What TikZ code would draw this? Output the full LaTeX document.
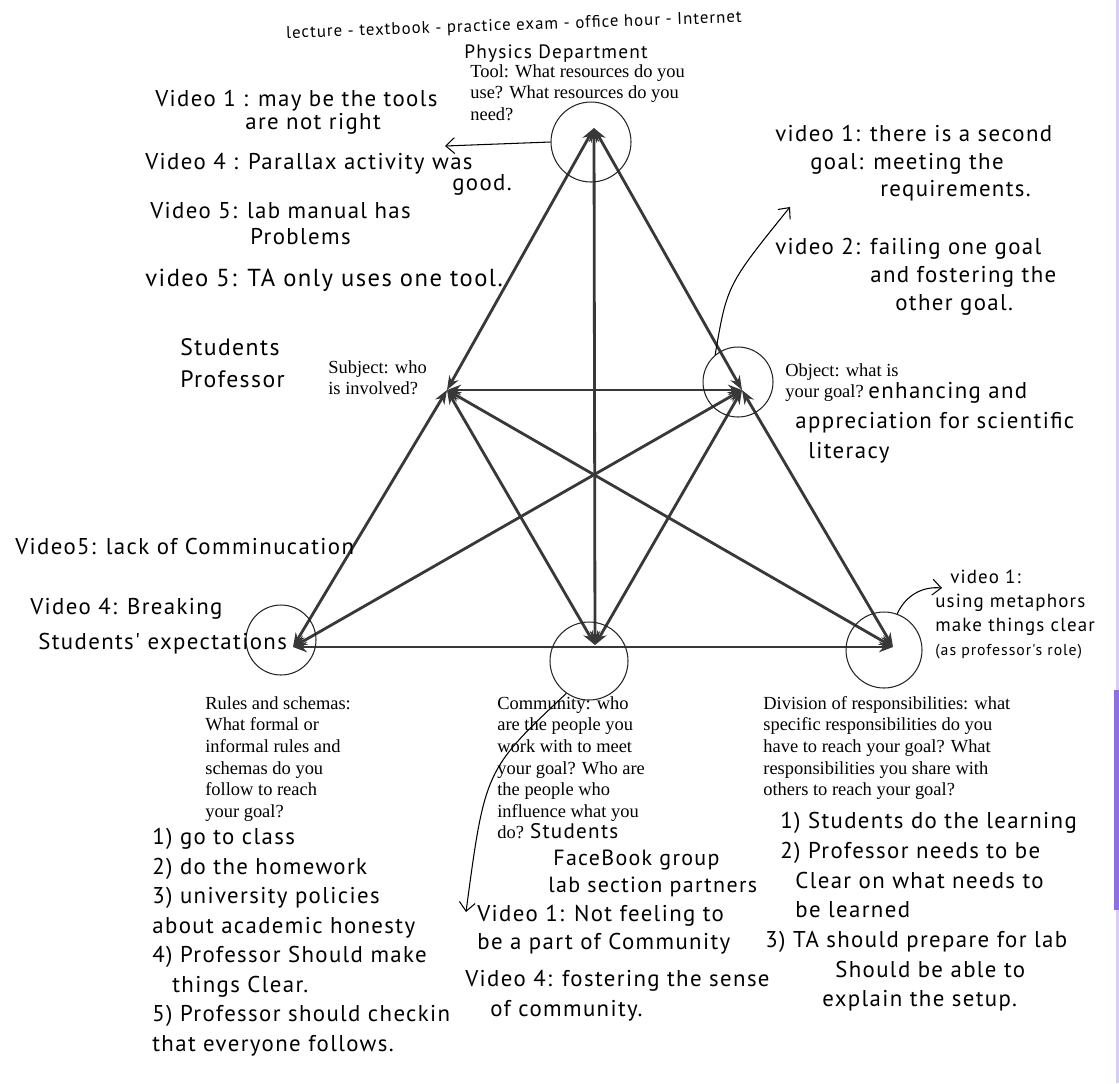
\documentclass[tikz,border=0pt]{standalone}
\usepackage{fontspec}
\setmainfont{Liberation Serif}
\newfontfamily\handfont[LetterSpace=6]{PT Sans}
\usetikzlibrary{arrows.meta}
\definecolor{scanedge}{RGB}{140,110,230}
\begin{document}
\begin{tikzpicture}[x=0.02cm,y=-0.02cm,
    link/.style={{Stealth[length=8pt,width=6pt]}-{Stealth[length=8pt,width=6pt]},line width=1.6pt,draw=black!78},
    ring/.style={draw=black!85,circle,line width=0.6pt,inner sep=0pt},
    pointer/.style={-{Straight Barb[length=5pt,width=9pt]},line width=0.6pt},
    prompt/.style={font=\fontsize{10.5}{12.3}\selectfont,align=left,anchor=north west,inner sep=0pt},
    hand/.style={font=\handfont\fontsize{13}{#1}\selectfont,align=left,anchor=north west,inner sep=0pt},
    hand/.default=16]
  \useasboundingbox[fill=white] (0,0) rectangle (1119,1083);
  % scanner edge on the right
  \fill[scanedge!35] (1116,0) rectangle (1119,1083);
  \fill[scanedge] (1114,690) rectangle (1119,910);

  % corners of the two triangles
  \coordinate (tool)  at (594,128);
  \coordinate (subj)  at (447,390);
  \coordinate (obj)   at (742,390);
  \coordinate (rules) at (293,647);
  \coordinate (comm)  at (595,645);
  \coordinate (div)   at (893,647);

  % every pair is linked both ways
  \foreach \from/\to in {tool/subj,tool/obj,tool/comm,subj/obj,subj/rules,subj/comm,subj/div,
                         obj/rules,obj/comm,obj/div,rules/div}
    \draw[link] (\from) -- (\to);

  % circled corners
  \node[ring,minimum size=1.6cm]  (toolring)  at (591,142) {};
  \node[ring,minimum size=1.4cm]  (objring)   at (738,382) {};
  \node[ring,minimum size=1.4cm]  (rulesring) at (281,640) {};
  \node[ring,minimum size=1.56cm] (commring)  at (589,661) {};
  \node[ring,minimum size=1.52cm] (divring)   at (884,650) {};

  % pointers from the circles to the notes
  \coordinate (toolnote) at (445,146);
  \coordinate (objnote)  at (790,207);
  \coordinate (divnote)  at (942,588);
  \coordinate (commnote) at (466,912);
  \draw[pointer] (toolring.west) -- (toolnote);
  \draw[pointer] (objring.130) .. controls (727,285) .. (objnote);
  \draw[pointer] (divring.70) to[bend left=35] (divnote);
  \draw[pointer] (commring.235) .. controls (485,770) .. (commnote);

  % tool corner
  \node[hand,font=\handfont\fontsize{9.6}{12}\selectfont,anchor=center,rotate=2] (toolres) at (514,26)
    {lecture - textbook - practice exam - office hour - Internet};
  \node[hand,font=\handfont\fontsize{11}{12}\selectfont,anchor=center] (dept) at (556,54) {Physics Department};
  \node[prompt] (toolq) at (470,64) {Tool: What resources do you\\use? What resources do you\\need?};
  \node[hand=13] (toolv1) at (155,90) {Video 1 : may be the tools\\\hspace*{1.8cm}are not right};
  \node[hand=12] (toolv4) at (145,153) {Video 4 : Parallax activity was\\\hspace*{6.14cm}good.};
  \node[hand=14.8] (toolv5a) at (150,202) {Video 5: lab manual has\\\hspace*{2cm}Problems};
  \node[hand,font=\handfont\fontsize{14}{16}\selectfont] (toolv5b) at (145,269) {video 5: TA only uses one tool.};

  % subject corner
  \node[hand,font=\handfont\fontsize{13.5}{18.2}\selectfont] (subjlist) at (180,338) {Students\\Professor};
  \node[prompt] (subjq) at (328,360) {Subject: who\\is involved?};

  % object corner
  \node[hand=15.6] (objv1) at (775,125)
    {video 1: there is a second\\\hspace*{0.7cm}goal: meeting the\\\hspace*{2.1cm}requirements.};
  \node[hand] (objv2) at (775,238)
    {video 2: failing one goal\\\hspace*{1.9cm}and fostering the\\\hspace*{2.4cm}other goal.};
  \node[prompt] (objq) at (785,363) {Object: what is\\your goal?};
  \node[hand=17] (objgoal) at (795,382)
    {\hspace*{1.46cm}enhancing and\\appreciation for scientific\\\hspace*{0.26cm}literacy};

  % rules corner
  \node[hand] (rulesv5) at (15,538) {Video5: lack of Comminucation};
  \node[hand=20] (rulesv4) at (30,598) {Video 4: Breaking\\\hspace*{0.16cm}Students' expectations};
  \node[prompt] (rulesq) at (205,696)
    {Rules and schemas:\\What formal or\\informal rules and\\schemas do you\\follow to reach\\your goal?};
  \node[hand=16.8] (rulesnotes) at (152,828)
    {1) go to class\\2) do the homework\\3) university policies\\about academic honesty\\
     4) Professor Should make\\\hspace*{0.4cm}things Clear.\\5) Professor should checkin\\that everyone follows.};

  % community corner
  \node[prompt] (commq) at (497,696)
    {Community: who\\are the people you\\work with to meet\\your goal? Who are\\the people who\\influence what you\\
     do? {\handfont\fontsize{12}{12.3}\selectfont Students}};
  \node[hand,font=\handfont\fontsize{12.5}{15}\selectfont] (commnotes) at (548,850) {\hspace*{0.1cm}FaceBook group\\lab section partners};
  \node[hand] (commv1) at (477,905) {Video 1: Not feeling to\\be a part of Community};
  \node[hand=17] (commv4) at (465,970) {Video 4: fostering the sense\\\hspace*{0.5cm}of community.};

  % division corner
  \node[hand,font=\handfont\fontsize{10.8}{13.5}\selectfont] (divv1) at (935,570)
    {\hspace*{0.3cm}video 1:\\using metaphors\\make things clear\\{\fontsize{9}{13.5}\selectfont (as professor's role)}};
  \node[prompt] (divq) at (763,696)
    {Division of responsibilities: what\\specific responsibilities do you\\have to reach your goal? What\\
     responsibilities you share with\\others to reach your goal?};
  \node[hand=16.9] (divnotes) at (765,812)
    {\hspace*{0.3cm}1) Students do the learning\\\hspace*{0.3cm}2) Professor needs to be\\
     \hspace*{0.6cm}Clear on what needs to\\\hspace*{0.6cm}be learned\\3) TA should prepare for lab\\
     \hspace*{1.4cm}Should be able to\\\hspace*{1.14cm}explain the setup.};
\end{tikzpicture}
\end{document}
